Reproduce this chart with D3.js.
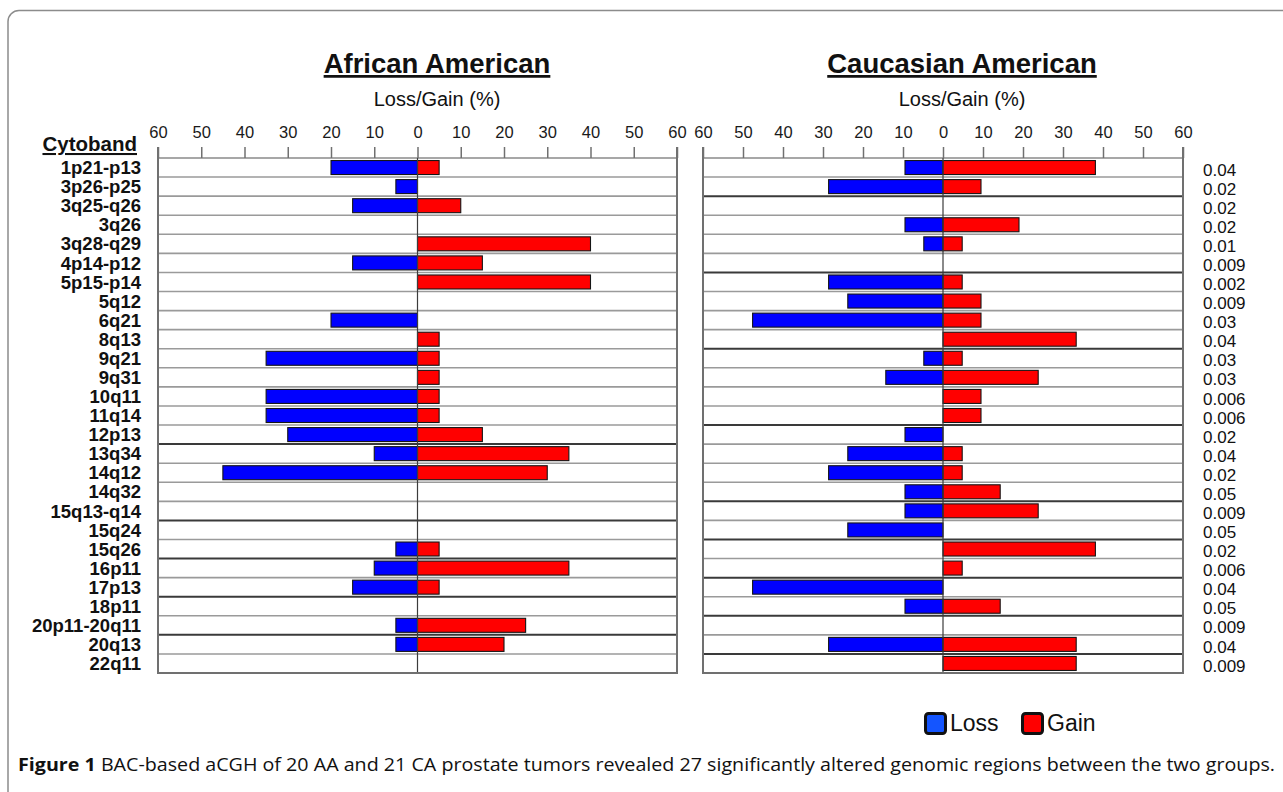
<!DOCTYPE html>
<html>
<head>
<meta charset="utf-8">
<script src="https://cdn.jsdelivr.net/npm/d3@7"></script>
<style>
  body { margin: 0; background: #fff; }
  svg { display: block; font-family: "Liberation Sans", Arial, sans-serif; }
</style>
</head>
<body>
<script>
// data (percent of tumours with loss / gain)
const cytobands = ["1p21-p13", "3p26-p25", "3q25-q26", "3q26", "3q28-q29", "4p14-p12", "5p15-p14",
    "5q12", "6q21", "8q13", "9q21", "9q31", "10q11", "11q14", "12p13", "13q34", "14q12", "14q32",
    "15q13-q14", "15q24", "15q26", "16p11", "17p13", "18p11", "20p11-20q11", "20q13", "22q11"]

const aaLoss = [20, 5, 15, 0, 0, 15, 0, 0, 20, 0, 35, 0, 35, 35, 30, 10, 45, 0, 0, 0, 5, 10, 15, 0, 5, 5, 0]
const aaGain = [5, 0, 10, 0, 40, 15, 40, 0, 0, 5, 5, 5, 5, 5, 15, 35, 30, 0, 0, 0, 5, 35, 5, 0, 25, 20, 0]

const caLoss = [9.5, 28.6, 0, 9.5, 4.8, 0, 28.6, 23.8, 47.6, 0, 4.8, 14.3, 0, 0, 9.5, 23.8, 28.6, 9.5,
    9.5, 23.8, 0, 0, 47.6, 9.5, 0, 28.6, 0]
const caGain = [38.1, 9.5, 0, 19, 4.8, 0, 4.8, 9.5, 9.5, 33.3, 4.8, 23.8, 9.5, 9.5, 0, 4.8, 4.8, 14.3,
    23.8, 0, 38.1, 4.8, 0, 14.3, 0, 33.3, 33.3]

const pValues = ["0.04", "0.02", "0.02", "0.02", "0.01", "0.009", "0.002", "0.009", "0.03", "0.04",
    "0.03", "0.03", "0.006", "0.006", "0.02", "0.04", "0.02", "0.05", "0.009", "0.05", "0.02",
    "0.006", "0.04", "0.05", "0.009", "0.04", "0.009"]

const tickValues = [-60, -50, -40, -30, -20, -10, 0, 10, 20, 30, 40, 50, 60]

const width = 1283, height = 792
const plotTop = 158, plotBottom = 673

const svg = d3.select("body").append("svg")
    .attr("width", width)
    .attr("height", height)

// outer frame of the figure
svg.append("rect")
    .attr("x", 8).attr("y", 10.5)
    .attr("width", 1320).attr("height", 820)
    .attr("rx", 11)
    .attr("fill", "none")
    .attr("stroke", "#8c8c8c")
    .attr("stroke-width", 1.5)

const yScale = d3.scaleBand()
    .domain(cytobands)
    .range([plotTop, plotBottom])
    .paddingInner(0)

// separators drawn darker in the original
const darkLeft = new Set([14, 18, 20, 22, 24])
const darkRight = new Set([1, 5, 9, 13, 17, 19, 21, 23, 25])

function drawPanel(opts) {
    const xScale = d3.scaleLinear().domain([-60, 60]).range([opts.x0, opts.x1])
    const g = svg.append("g")

    // row separators
    g.selectAll(".rule")
        .data(cytobands.slice(0, -1))
        .enter().append("line")
        .attr("x1", opts.x0).attr("x2", opts.x1)
        .attr("y1", d => yScale(d) + yScale.bandwidth())
        .attr("y2", d => yScale(d) + yScale.bandwidth())
        .attr("stroke", (d, i) => opts.dark.has(i) ? "#3a3a3a" : "#9a9a9a")
        .attr("stroke-width", (d, i) => opts.dark.has(i) ? 2 : 1.6)

    // top line
    g.append("line")
        .attr("x1", opts.x0).attr("x2", opts.x1)
        .attr("y1", plotTop).attr("y2", plotTop)
        .attr("stroke", "#8a8a8a").attr("stroke-width", 1.6)

    const barH = 14
    const off = (yScale.bandwidth() - barH) / 2

    g.selectAll(".loss")
        .data(cytobands.filter((d, i) => opts.loss[i] > 0))
        .enter().append("rect")
        .attr("x", d => xScale(-opts.loss[cytobands.indexOf(d)]))
        .attr("y", d => yScale(d) + off)
        .attr("width", d => xScale(0) - xScale(-opts.loss[cytobands.indexOf(d)]))
        .attr("height", barH)
        .attr("fill", "#0000ff")
        .attr("stroke", "#151515")
        .attr("stroke-width", 1.1)

    g.selectAll(".gain")
        .data(cytobands.filter((d, i) => opts.gain[i] > 0))
        .enter().append("rect")
        .attr("x", xScale(0))
        .attr("y", d => yScale(d) + off)
        .attr("width", d => xScale(opts.gain[cytobands.indexOf(d)]) - xScale(0))
        .attr("height", barH)
        .attr("fill", "#ff0000")
        .attr("stroke", "#151515")
        .attr("stroke-width", 1.1)

    // zero line
    g.append("line")
        .attr("x1", xScale(0)).attr("x2", xScale(0))
        .attr("y1", plotTop).attr("y2", plotBottom)
        .attr("stroke", "#3c3c3c").attr("stroke-width", 1.2)

    // side and bottom borders
    g.append("path")
        .attr("d", `M${opts.x0},${plotTop - 11}V${plotBottom}H${opts.x1}V${plotTop - 11}`)
        .attr("fill", "none")
        .attr("stroke", "#707070")
        .attr("stroke-width", 2)

    // top axis
    const axis = d3.axisTop(xScale)
        .tickValues(tickValues)
        .tickSize(11)
        .tickPadding(9)
        .tickFormat(d => Math.abs(d))

    const ax = g.append("g")
        .attr("transform", `translate(0,${plotTop})`)
        .call(axis)
    ax.select(".domain").remove()
    ax.selectAll(".tick line").attr("stroke", "#707070").attr("stroke-width", 1.5)
    ax.selectAll(".tick text")
        .attr("font-size", 16.5)
        .attr("fill", "#1a1a1a")
        .attr("font-family", "\"Liberation Sans\", Arial, sans-serif")

    // titles
    const cx = opts.titleX
    g.append("text")
        .attr("x", cx).attr("y", 73)
        .attr("text-anchor", "middle")
        .attr("font-size", 27.5)
        .attr("font-weight", "bold")
        .attr("text-decoration", "underline")
        .attr("fill", "#111")
        .text(opts.title)

    g.append("text")
        .attr("x", cx).attr("y", 106)
        .attr("text-anchor", "middle")
        .attr("font-size", 20)
        .attr("fill", "#111")
        .text("Loss/Gain (%)")

    return xScale
}

drawPanel({ x0: 158, x1: 677, loss: aaLoss, gain: aaGain, dark: darkLeft,
    title: "African American", titleX: 437 })
drawPanel({ x0: 703, x1: 1183, loss: caLoss, gain: caGain, dark: darkRight,
    title: "Caucasian American", titleX: 962 })

// cytoband labels
svg.append("text")
    .attr("x", 137).attr("y", 151)
    .attr("text-anchor", "end")
    .attr("font-size", 20.5)
    .attr("font-weight", "bold")
    .attr("text-decoration", "underline")
    .attr("fill", "#111")
    .text("Cytoband")

svg.selectAll(".band-label")
    .data(cytobands)
    .enter().append("text")
    .attr("x", 141)
    .attr("y", d => yScale(d) + yScale.bandwidth() / 2)
    .attr("dy", "0.36em")
    .attr("text-anchor", "end")
    .attr("font-size", 18.5)
    .attr("font-weight", "bold")
    .attr("fill", "#111")
    .text(d => d)

// p values
svg.selectAll(".pval")
    .data(pValues)
    .enter().append("text")
    .attr("x", 1203)
    .attr("y", (d, i) => yScale(cytobands[i]) + yScale.bandwidth() / 2 + 2)
    .attr("dy", "0.36em")
    .attr("font-size", 17)
    .attr("fill", "#111")
    .text(d => d)

// legend
const legend = [["Loss", "#1455ff", 924], ["Gain", "#ff0000", 1021]]
legend.forEach(([name, color, x]) => {
    svg.append("rect")
        .attr("x", x + 1.5).attr("y", 713.5)
        .attr("width", 20).attr("height", 20)
        .attr("rx", 3)
        .attr("fill", color)
        .attr("stroke", "#111")
        .attr("stroke-width", 3)
    svg.append("text")
        .attr("x", x + 26).attr("y", 731)
        .attr("font-size", 23)
        .attr("fill", "#111")
        .text(name)
})

// caption
const cap = svg.append("text")
    .attr("x", 18).attr("y", 771)
    .attr("font-size", 18)
    .attr("font-family", "\"Open Sans\", \"Noto Sans\", sans-serif")
    .attr("fill", "#111")
    .attr("textLength", 1257)
    .attr("lengthAdjust", "spacingAndGlyphs")
cap.append("tspan").attr("font-weight", "bold").text("Figure 1")
cap.append("tspan").text(" BAC-based aCGH of 20 AA and 21 CA prostate tumors revealed 27 significantly altered genomic regions between the two groups.")
</script>
</body>
</html>
